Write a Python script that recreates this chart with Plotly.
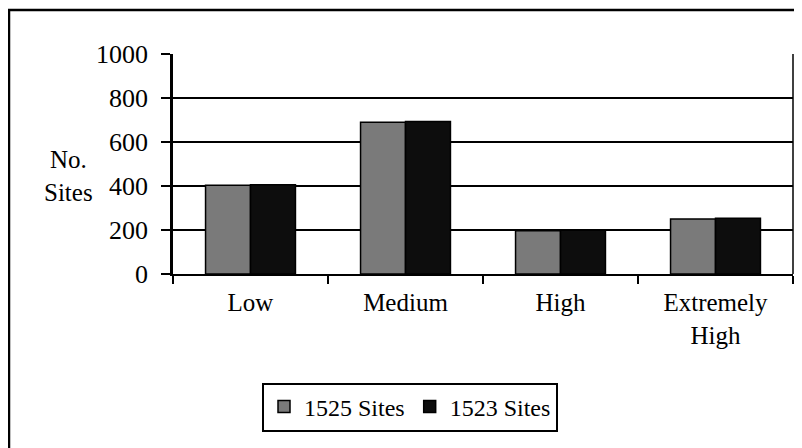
import plotly.graph_objects as go

categories = ["Low", "Medium", "High", "Extremely<br>High"]
series_names = ["1525 Sites", "1523 Sites"]
values_1525 = [403, 690, 197, 250]
values_1523 = [406, 693, 199, 253]
y_ticks = [0, 200, 400, 600, 800, 1000]

W, H = 802, 448
OFF = 8  # page body margin
# plot area box in page pixels
L, R, T, B = 173, 793, 54, 274
pw, ph = R - L, B - T

def px(x):
    return (x - L) / pw

def py(y):
    return (B - y) / ph

FONT = "Liberation Serif, Times New Roman, serif"

fig = go.Figure()
fig.add_trace(go.Bar(x=categories, y=values_1525, name=series_names[0],
                     marker=dict(color="#7a7a7a", line=dict(color="black", width=1.5))))
fig.add_trace(go.Bar(x=categories, y=values_1523, name=series_names[1],
                     marker=dict(color="#0d0d0d", line=dict(color="black", width=1.5))))

fig.update_layout(
    width=W, height=H, autosize=False,
    margin=dict(l=L - OFF, r=W - (R - OFF), t=T - OFF, b=H - (B - OFF), pad=0),
    paper_bgcolor="white", plot_bgcolor="white",
    font=dict(family=FONT, size=25, color="black"),
    barmode="group", bargap=0.42, bargroupgap=0,
    showlegend=True,
    legend=dict(orientation="h", x=px(410), xanchor="center", y=py(407), yanchor="middle",
                bordercolor="black", borderwidth=2, bgcolor="white",
                font=dict(family=FONT, size=24), itemwidth=30, traceorder="normal"),
)
fig.update_xaxes(showline=True, linecolor="black", linewidth=2, ticks="outside",
                 tickson="boundaries", ticklen=8, tickwidth=2, tickcolor="black",
                 showgrid=False, tickfont=dict(family=FONT, size=25),
                 ticklabelstandoff=5, fixedrange=True)
fig.update_yaxes(range=[0, 1000], tickvals=y_ticks, showline=True, linecolor="black",
                 linewidth=2.5, ticks="outside", ticklen=9, tickwidth=2, tickcolor="black",
                 showgrid=True, gridcolor="black", gridwidth=2,
                 tickfont=dict(family=FONT, size=26), ticklabelstandoff=8,
                 zeroline=False, fixedrange=True)

# plot area right border
fig.add_shape(type="line", xref="paper", yref="paper", x0=1, x1=1, y0=0, y1=1,
              line=dict(color="black", width=1.5))
# outer chart frame (cut off at right and bottom)
fig.add_shape(type="rect", xref="paper", yref="paper",
              x0=px(9), x1=px(830), y0=py(470), y1=py(10),
              line=dict(color="black", width=2.5), layer="below")

fig.add_annotation(text="No.<br>Sites", xref="paper", yref="paper",
                   x=px(69), y=py(176), xanchor="center", yanchor="middle",
                   showarrow=False, align="center",
                   font=dict(family=FONT, size=25))

fig.write_html("out.html")
